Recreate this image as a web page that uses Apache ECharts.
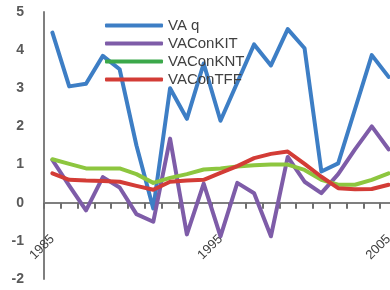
<!DOCTYPE html>
<html>
<head>
<meta charset="utf-8">
<script src="https://cdn.jsdelivr.net/npm/echarts@6/dist/echarts.min.js"></script>
<style>html,body{margin:0;padding:0;background:#fff}#c{width:390px;height:290px}</style>
</head>
<body>
<div id="c"></div>
<script>
const years = ['1985','1986','1987','1988','1989','1990','1991','1992','1993','1994','1995','1996','1997','1998','1999','2000','2001','2002','2003','2004','2005'];
const seriesNames = ['VA q','VAConKIT','VAConKNT','VAConTFF'];
const vaQ = [4.46, 3.05, 3.12, 3.85, 3.5, 1.5, -0.15, 3.0, 2.2, 3.65, 2.15, 3.15, 4.15, 3.6, 4.55, 4.05, 0.82, 1.03, 2.45, 3.87, 3.3];
const vaConKIT = [1.12, 0.45, -0.2, 0.67, 0.4, -0.3, -0.5, 1.68, -0.83, 0.5, -0.88, 0.52, 0.25, -0.88, 1.2, 0.55, 0.25, 0.75, 1.4, 2.0, 1.4];
const vaConKNT = [1.14, 1.02, 0.9, 0.9, 0.9, 0.75, 0.52, 0.65, 0.75, 0.87, 0.9, 0.95, 0.98, 1.0, 1.0, 0.86, 0.6, 0.47, 0.47, 0.6, 0.77];
const vaConTFF = [0.77, 0.6, 0.58, 0.57, 0.55, 0.44, 0.34, 0.55, 0.58, 0.6, 0.78, 0.96, 1.17, 1.28, 1.34, 1.02, 0.68, 0.38, 0.35, 0.36, 0.47];

const lineColors = ['#3D7EC5', '#7E5CA8', '#8DC63F', '#D33C36'];
const legendColors = ['#3D7EC5', '#7E5CA8', '#3BA84A', '#D33C36'];
const values = [vaQ, vaConKIT, vaConKNT, vaConTFF];

const yMin = -2, yMax = 5;
const W = 390, H = 290;
const gridTop = 12, gridBottom = 11;
const plotH = H - gridTop - gridBottom;
const zeroOffset = -Math.round(plotH * (0 - yMin) / (yMax - yMin));
const font = 'Liberation Sans, Arial, sans-serif';

const chart = echarts.init(document.getElementById('c'));
chart.setOption({
  animation: false,
  grid: {left: 44, top: gridTop, bottom: gridBottom, right: -7, containLabel: false, outerBoundsMode: 'none'},
  legend: {
    orient: 'vertical', left: 105, top: 18, padding: 0,
    itemWidth: 58, itemHeight: 4, itemGap: 3, icon: 'roundRect',
    textStyle: {fontSize: 15, color: '#404040', fontFamily: font},
    data: seriesNames.map((n, i) => ({name: n, itemStyle: {color: legendColors[i]}}))
  },
  xAxis: [{
    type: 'category', data: years, boundaryGap: true, position: 'bottom',
    axisLine: {onZero: true, lineStyle: {color: '#7f7f7f', width: 2}},
    axisTick: {show: true, interval: 0, alignWithLabel: false, inside: false, length: 6, lineStyle: {color: '#6f6f6f', width: 2}},
    axisLabel: {show: false}
  }, {
    type: 'category', data: years, boundaryGap: true, position: 'bottom', offset: zeroOffset,
    axisLine: {show: false, onZero: false},
    axisTick: {show: false},
    axisLabel: {interval: 9, rotate: 45, margin: 34, fontSize: 13, color: '#404040', fontFamily: font}
  }],
  yAxis: {
    type: 'value', min: yMin, max: yMax, interval: 1,
    splitLine: {show: false},
    axisLine: {show: true, lineStyle: {color: '#7f7f7f', width: 2}},
    axisTick: {show: false},
    axisLabel: {margin: 20, fontSize: 14, fontWeight: 'bold', color: '#595959', fontFamily: font}
  },
  series: seriesNames.map((n, i) => ({
    name: n, type: 'line', xAxisIndex: 0, data: values[i], symbol: 'none',
    itemStyle: {color: lineColors[i]},
    lineStyle: {width: 4, color: lineColors[i], cap: 'round', join: 'round'}
  }))
});
</script>
</body>
</html>
